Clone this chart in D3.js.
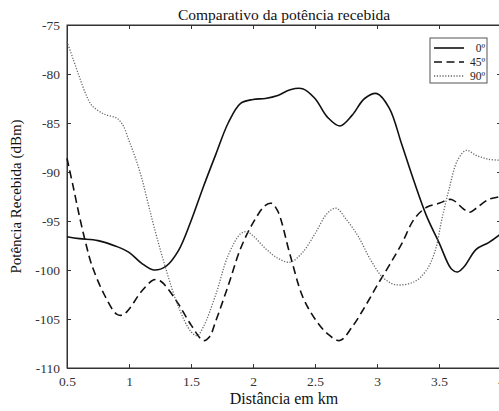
<!DOCTYPE html>
<html>
<head>
<meta charset="utf-8">
<script src="https://cdn.jsdelivr.net/npm/d3@7"></script>
<style>
body{margin:0;background:#fff;}
svg{display:block;font-family:"Liberation Serif","Times New Roman",Times,serif;}
</style>
</head>
<body>
<script>
// dados
var dist0=[0.5,0.6,0.75,0.9,1.0,1.1,1.2,1.3,1.4,1.5,1.6,1.7,1.8,1.9,2.0,2.1,2.2,2.3,2.4,2.5,2.6,2.7,2.8,2.9,3.0,3.1,3.2,3.3,3.4,3.5,3.6,3.65,3.7,3.8,3.9,4.0];
var pot0=[-96.6,-96.8,-97.0,-97.6,-98.2,-99.3,-100.0,-99.6,-98.0,-95.0,-91.5,-88.2,-85.0,-83.0,-82.6,-82.5,-82.2,-81.6,-81.5,-82.5,-84.4,-85.3,-84.2,-82.5,-82.0,-83.5,-87.2,-91.0,-94.5,-97.2,-99.9,-100.2,-99.7,-97.9,-97.2,-96.3];

var dist45=[0.5,0.55,0.6,0.65,0.7,0.8,0.9,0.95,1.0,1.1,1.2,1.25,1.3,1.4,1.5,1.6,1.65,1.7,1.8,1.9,2.0,2.1,2.15,2.2,2.3,2.4,2.5,2.6,2.7,2.8,2.9,3.0,3.1,3.2,3.3,3.4,3.5,3.6,3.7,3.75,3.8,3.9,4.0];
var pot45=[-88.6,-91.5,-94.5,-97.2,-99.5,-102.5,-104.5,-104.6,-104.0,-102.2,-101.0,-101.1,-101.7,-103.5,-105.6,-107.2,-106.8,-105.2,-101.6,-97.8,-95.2,-93.4,-93.2,-94.0,-98.5,-102.7,-105.0,-106.5,-107.2,-105.8,-103.8,-101.6,-99.5,-97.3,-94.8,-93.6,-93.2,-92.8,-93.8,-94.1,-93.7,-92.8,-92.5];

var dist90=[0.5,0.55,0.6,0.65,0.7,0.8,0.9,0.95,1.0,1.05,1.1,1.15,1.2,1.3,1.4,1.5,1.55,1.6,1.7,1.8,1.9,1.95,2.0,2.1,2.2,2.3,2.4,2.5,2.6,2.67,2.75,2.85,2.95,3.05,3.15,3.3,3.4,3.47,3.52,3.58,3.65,3.72,3.8,3.9,4.0];
var pot90=[-76.7,-78.5,-80.3,-82.0,-83.2,-84.1,-84.5,-85.2,-86.8,-88.5,-90.5,-93.0,-95.5,-100.0,-103.8,-106.3,-106.7,-105.8,-102.5,-98.5,-96.3,-96.1,-96.5,-97.8,-98.8,-99.2,-98.2,-96.3,-94.2,-93.7,-94.8,-96.6,-99.0,-100.8,-101.5,-101.2,-100.0,-98.0,-95.0,-91.8,-88.8,-87.8,-88.3,-88.7,-88.8];

var xTicks=[0.5,1,1.5,2,2.5,3,3.5,4];
var yTicks=[-110,-105,-100,-95,-90,-85,-80,-75];
var legendLabels=["0º","45º","90º"];

var W=499,H=411;
var m={top:25,left:67,right:-2,bottom:43};

var svg=d3.select("body").append("svg").attr("width",W).attr("height",H);

var x=d3.scaleLinear().domain([0.5,4]).range([m.left,W-m.right]);
var y=d3.scaleLinear().domain([-110,-75]).range([H-m.bottom,m.top]);

// caixa dos eixos
svg.append("rect")
  .attr("x",x(0.5)).attr("y",y(-75))
  .attr("width",x(4)-x(0.5)).attr("height",y(-110)-y(-75))
  .attr("fill","none").attr("stroke","#333").attr("stroke-width",1);

var gx=svg.append("g").attr("transform","translate(0,"+y(-110)+")")
  .call(d3.axisBottom(x).tickValues(xTicks).tickFormat(d3.format("")).tickSizeInner(-4).tickSizeOuter(0).tickPadding(8));
var gxTop=svg.append("g").attr("transform","translate(0,"+y(-75)+")")
  .call(d3.axisTop(x).tickValues(xTicks).tickFormat("").tickSizeInner(-4).tickSizeOuter(0));
var gy=svg.append("g").attr("transform","translate("+x(0.5)+",0)")
  .call(d3.axisLeft(y).tickValues(yTicks).tickFormat(d3.format("")).tickSizeInner(-4).tickSizeOuter(0).tickPadding(7));
var gyR=svg.append("g").attr("transform","translate("+x(4)+",0)")
  .call(d3.axisRight(y).tickValues(yTicks).tickFormat("").tickSizeInner(-4).tickSizeOuter(0));

[gx,gxTop,gy,gyR].forEach(function(g){
  g.attr("font-family",null);
  g.select(".domain").attr("stroke","#333");
  g.selectAll(".tick line").attr("stroke","#333");
  g.selectAll("text").attr("font-size",13.5).attr("fill","#333");
});
gy.selectAll("text").text(function(d){return d<0?"-"+Math.abs(d):d;});

// curvas
var series=[
  {xs:dist0,ys:pot0,dash:null,w:1.6,c:"#111"},
  {xs:dist45,ys:pot45,dash:"8,4.5",w:1.6,c:"#111"},
  {xs:dist90,ys:pot90,dash:"1.2,1.6",w:1.3,c:"#666"}
];
var line=d3.line().x(function(d){return x(d[0]);}).y(function(d){return y(d[1]);}).curve(d3.curveCatmullRom);

svg.selectAll("path.serie")
  .data(series)
  .enter().append("path")
  .attr("class","serie")
  .attr("d",function(s){return line(d3.zip(s.xs,s.ys));})
  .attr("fill","none")
  .attr("stroke",function(s){return s.c;})
  .attr("stroke-width",function(s){return s.w;})
  .attr("stroke-dasharray",function(s){return s.dash;});

// legenda
var lg=svg.append("g").attr("transform","translate(430,38)");
lg.append("rect").attr("width",57).attr("height",45).attr("fill","#fff").attr("stroke","#555").attr("stroke-width",1);
var items=lg.selectAll("g.item").data(series).enter().append("g").attr("class","item")
  .attr("transform",function(d,i){return "translate(0,"+(10+i*14)+")";});
items.append("line").attr("x1",4).attr("x2",34).attr("y1",0).attr("y2",0)
  .attr("stroke",function(s){return s.c;})
  .attr("stroke-width",function(s){return s.w;})
  .attr("stroke-dasharray",function(s){return s.dash;});
items.append("text").attr("x",55).attr("y",4).attr("text-anchor","end")
  .attr("font-size",11.5).attr("fill","#222")
  .text(function(d,i){return legendLabels[i];});

// titulos
svg.append("text").attr("x",(x(0.5)+x(4))/2).attr("y",20).attr("text-anchor","middle")
  .attr("font-size",15.5).attr("fill","#111").text("Comparativo da potência recebida");
svg.append("text").attr("x",(x(0.5)+x(4))/2).attr("y",404).attr("text-anchor","middle")
  .attr("font-size",16).attr("fill","#111").text("Distância em km");
svg.append("text").attr("transform","translate(21,"+((y(-75)+y(-110))/2)+") rotate(-90)")
  .attr("text-anchor","middle").attr("font-size",15).attr("fill","#111").text("Potência Recebida (dBm)");
</script>
</body>
</html>
